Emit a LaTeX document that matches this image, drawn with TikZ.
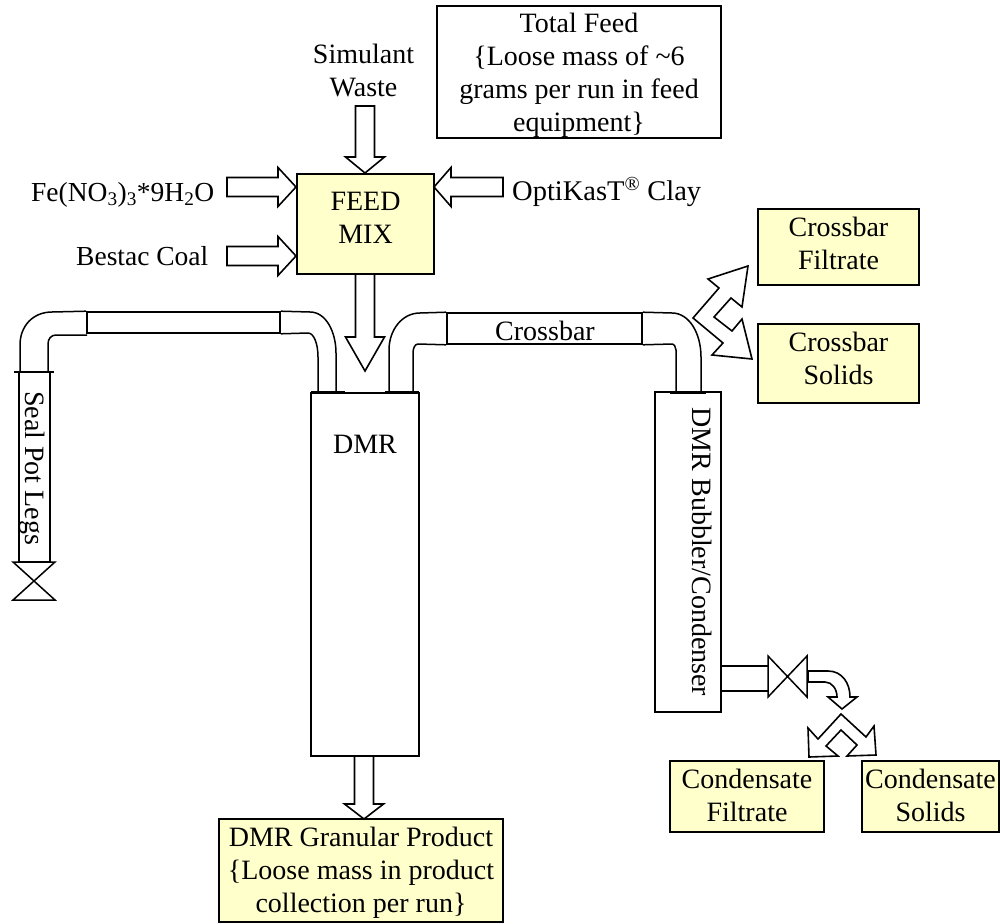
\documentclass[tikz,border=0pt]{standalone}
\usepackage{fontspec}
\setmainfont{Liberation Serif}
\definecolor{boxyellow}{RGB}{255, 255, 204}
\usetikzlibrary{calc}
\tikzset{
	txt/.style={inner sep=0pt, align=center, font=\fontsize{28}{33}\selectfont},
	plainbox/.style={rectangle, draw=black, fill=white, line width=1.8pt, inner sep=0pt},
	yellowbox/.style={plainbox, fill=boxyellow},
	vessel/.style={plainbox, line width=1.6pt},
	pipe/.style={line width=1.5pt, draw=black},
	flange/.style={line width=2.6pt, draw=black},
	valve/.style={line width=1.5pt, draw=black, fill=white},
	blockarrow/.style={line width=1.6pt, draw=black, fill=white, line join=miter},
}
\newcommand{\flowarrow}[3]{%
	\coordinate (hb) at ($(#2)!#3!(#1)$);
	\draw[blockarrow] ($(#1)!9.5pt!90:(#2)$) -- ($(hb)!9.5pt!90:(#2)$) -- ($(hb)!19.5pt!90:(#2)$) -- (#2)
		-- ($(hb)!19.5pt!-90:(#2)$) -- ($(hb)!9.5pt!-90:(#2)$) -- ($(#1)!9.5pt!-90:(#2)$) -- cycle;
}
\begin{document}
\begin{tikzpicture}[x=1pt, y=-1pt]
		\useasboundingbox (0,0) rectangle (1000,923);
		\node[plainbox, minimum width=284pt, minimum height=132pt] (totalfeed) at (579,72) {};
		\node[txt] (totalfeedlabel) at (579,75) {Total Feed\\\{Loose mass of \textasciitilde6\\grams per run in feed\\equipment\}};
		\node[txt] (simulant) at (363.5,70) {Simulant\\Waste};
		\node[yellowbox, minimum width=137pt, minimum height=100pt] (feedmix) at (365.5,224) {};
		\node[txt] (feedmixlabel) at (365.5,218) {FEED\\MIX};
		\node[txt, font=\fontsize{27.5}{33}\selectfont, anchor=base west] (iron) at (31,201) {Fe(NO\textsubscript{3})\textsubscript{3}*9H\textsubscript{2}O};
		\node[txt, font=\fontsize{27.5}{33}\selectfont, anchor=base west] (coal) at (76,265) {Bestac Coal};
		\node[txt, font=\fontsize{28.5}{33}\selectfont, anchor=base west] (clay) at (512,200) {OptiKasT\textsuperscript{\textregistered} Clay};
		\node[vessel, minimum width=108pt, minimum height=363pt] (dmr) at (365,574.5) {};
		\node[txt] (dmrlabel) at (365,444) {DMR};
		\node[vessel, minimum width=66pt, minimum height=320pt] (bubbler) at (688,552) {};
		\node[txt, rotate=-90, anchor=base] (bubblerlabel) at (692,552) {DMR Bubbler/Condenser};
		\node[vessel, minimum width=31pt, minimum height=190pt] (sealleg) at (34.5,467) {};
		\node[txt, rotate=-90, anchor=base] (seallabel) at (25,468) {Seal Pot Legs};
		\node[vessel, minimum width=193pt, minimum height=21pt] (sealrun) at (183.5,322.5) {};
		\node[vessel, minimum width=195pt, minimum height=31pt] (crossbar) at (544.5,328.5) {};
		\node[txt] (crossbarlabel) at (545,330.5) {Crossbar};
		\node[yellowbox, minimum width=161pt, minimum height=76pt] (crossfiltrate) at (838.5,247) {};
		\node[txt] (crossfiltratelabel) at (838.5,243) {Crossbar\\Filtrate};
		\node[yellowbox, minimum width=161pt, minimum height=79pt] (crosssolids) at (838.5,363.5) {};
		\node[txt] (crosssolidslabel) at (838.5,358.5) {Crossbar\\Solids};
		\node[yellowbox, minimum width=154pt, minimum height=71pt] (condfiltrate) at (747,796.5) {};
		\node[txt] (condfiltratelabel) at (747,795) {Condensate\\Filtrate};
		\node[yellowbox, minimum width=137pt, minimum height=71pt] (condsolids) at (930.5,796.5) {};
		\node[txt] (condsolidslabel) at (930.5,795) {Condensate\\Solids};
		\node[yellowbox, minimum width=284pt, minimum height=103pt] (product) at (361,870.5) {};
		\node[txt] (productlabel) at (361,872.5) {DMR Granular Product\\\{Loose mass in product\\collection per run\}};
		\coordinate (wastein) at (365,106);
		\coordinate (wastetip) at (365,173);
		\coordinate (ironin) at (227,187);
		\coordinate (irontip) at (296,187);
		\coordinate (coalin) at (227,256);
		\coordinate (coaltip) at (296,256);
		\coordinate (clayin) at (503,187);
		\coordinate (claytip) at (434,187);
		\coordinate (mixout) at (365,274);
		\coordinate (mixtip) at (365,371);
		\coordinate (dmrout) at (364,756);
		\coordinate (dmrtip) at (364,819);
		\flowarrow{wastein}{wastetip}{16pt}
		\flowarrow{ironin}{irontip}{18pt}
		\flowarrow{coalin}{coaltip}{18pt}
		\flowarrow{clayin}{claytip}{17pt}
		\flowarrow{mixout}{mixtip}{34pt}
		\flowarrow{dmrout}{dmrtip}{15pt}
		\draw[pipe] (sealrun.north west) -- (52,312) .. controls (33,312) and (20,326) .. (20,345) -- (20,371);
		\draw[pipe] (87,335) -- (56,335) .. controls (51,335) and (48,339) .. (48,344) -- (48,371);
		\draw[pipe] (sealrun.north east) -- (310,312) .. controls (326,312) and (336,332) .. (336,353) -- (336,392);
		\draw[pipe] (sealrun.south east) -- (308,333) .. controls (314,333) and (318,344) .. (318,357) -- (318,392);
		\draw[pipe] (crossbar.north west) -- (420,313) .. controls (402,313) and (389,330) .. (389,350) -- (389,392);
		\draw[pipe] (crossbar.south west) -- (418,344) .. controls (415,344) and (413,348) .. (413,353) -- (413,392);
		\draw[pipe] (crossbar.north east) -- (672,313) .. controls (689,313) and (701,333) .. (701,357) -- (701,392);
		\draw[pipe] (crossbar.south east) -- (672,344) .. controls (674,344) and (676,347) .. (676,350) -- (676,392);
		\draw[flange] (14,372) -- (54,372);
		\draw[flange] (311,392.5) -- (345,392.5);
		\draw[flange] (385,392.5) -- (419,392.5);
		\draw[flange] (670,392.5) -- (706,392.5);
		\draw[valve] (13,562) -- (55,562) -- (13,600) -- (55,600) -- cycle;
		\draw[blockarrow] (748,266) -- (708,279) -- (719,288) -- (693,318) -- (723,343) -- (712,355) -- (752,359) -- (742,319) -- (732,331) -- (714,317) -- (731,298) -- (742,307) -- cycle;
		\draw[pipe] (721,666) -- (768,666);
		\draw[pipe] (721,691) -- (768,691);
		\draw[valve] (768,656) -- (768,697) -- (807,656) -- (807,697) -- cycle;
		\draw[blockarrow] (808,671) -- (828,671) .. controls (842,671) and (850,683) .. (850,697) -- (857,697) -- (842,709) -- (828,697) -- (837,697) .. controls (837,689) and (832,682) .. (825,682) -- (808,682) -- cycle;
		\draw[blockarrow] (841,714) -- (866,737) -- (874,726) -- (876,755) -- (847,756) -- (857,745) -- (841,730) -- (826,746) -- (838,756) -- (809,757) -- (808,728) -- (818,739) -- cycle;
	\end{tikzpicture}
\end{document}
